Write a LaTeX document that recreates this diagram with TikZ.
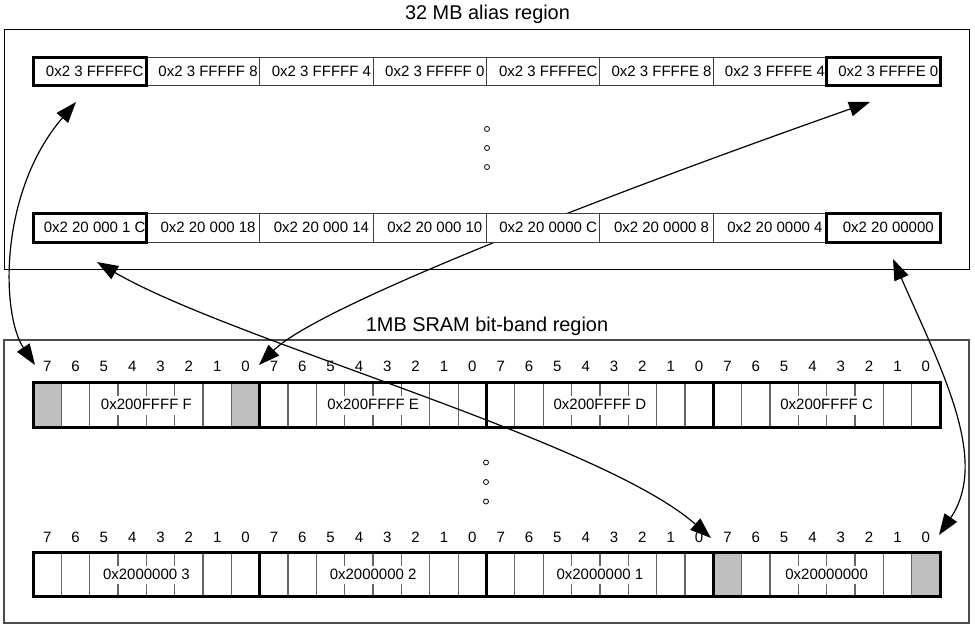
\documentclass[tikz,border=0pt]{standalone}
\usepackage{fontspec}
\setmainfont{Liberation Sans}
\usetikzlibrary{arrows.meta}
\def\mycw{28.34375}
\newcommand{\mybitrow}[8]{%
  \foreach \k/\lab in {0/#5,1/#6,2/#7,3/#8} {%
    \pgfmathsetmacro\myxo{33+\k*226.75}
    \foreach \i in {1,2,6,7}
      \draw[bitline] ({\myxo+\i*\mycw},#2) -- ({\myxo+\i*\mycw},#3);
    \foreach \i in {3,4,5} {
      \draw[bitline] ({\myxo+\i*\mycw},#2) -- ++(0,14);
      \draw[bitline] ({\myxo+\i*\mycw},#3) -- ++(0,-12);
    }
    \node[bytelabel] (#1\k) at ({\myxo+4*\mycw},{(#2+#3)/2}) {\lab};
    \foreach \i in {0,...,7} {
      \pgfmathtruncatemacro\mybn{7-\i}
      \node[bitnum] (#1n\k\i) at ({\myxo+(\i+0.5)*\mycw},#4) {\mybn};
    }
    \draw[bytebox] (\myxo,#2) rectangle ++(226.75,{#3-#2});
  }%
}
\begin{document}
\begin{tikzpicture}[x=1pt,y=-1pt,
  cellfont/.style={font=\fontsize{15}{16}\selectfont},
  titlefont/.style={font=\fontsize{19.9}{22}\selectfont, anchor=base, inner sep=0pt},
  frame/.style={draw=black, line width=1pt},
  frameb/.style={draw=black!70, line width=1.3pt},
  aliascell/.style={cellfont, draw=black!75, line width=1pt, fill=white,
    minimum width=113.375pt, inner sep=0pt, outer sep=0pt},
  thickbox/.style={draw=black, line width=3pt},
  bitline/.style={draw=black!60, line width=1.3pt},
  bytebox/.style={draw=black, line width=3pt},
  bytelabel/.style={cellfont, inner sep=0pt},
  bitnum/.style={cellfont, inner sep=0pt},
  bitgray/.style={fill=black!25},
  dotc/.style={circle, draw=black, line width=0.8pt, fill=white, minimum size=5pt, inner sep=0pt},
  conn/.style={draw=black, line width=1.2pt, {Triangle[length=21pt,width=15pt]}-{Triangle[length=21pt,width=15pt]}}
]
\useasboundingbox (0,0) rectangle (975,632);
\fill[white] (0,0) rectangle (975,632);

% frames
\draw[frame] (4,29) rectangle (969,269);
\draw[frameb] (4,340) rectangle (969,623);
\node[titlefont] (t1) at (487.5,19.4) {32 MB alias region};
\node[titlefont] (t2) at (487,331.6) {1MB SRAM bit-band region};

% gray bits
\fill[bitgray] (33,382) rectangle ++(\mycw,45);
\fill[bitgray] ({33+7*\mycw},382) rectangle ++(\mycw,45);
\fill[bitgray] ({33+24*\mycw},552) rectangle ++(\mycw,44);
\fill[bitgray] ({33+31*\mycw},552) rectangle ++(\mycw,44);

% bit rows
\mybitrow{u}{382}{427}{366.5}{0x200FFFF F}{0x200FFFF E}{0x200FFFF D}{0x200FFFF C}
\mybitrow{l}{552}{596}{537}{0x2000000 3}{0x2000000 2}{0x2000000 1}{0x20000000}

% dots
\node[dotc] (d1) at (487,129) {};
\node[dotc] (d2) at (487,148) {};
\node[dotc] (d3) at (487,167) {};
\node[dotc] (d4) at (486,462.5) {};
\node[dotc] (d5) at (486,482) {};
\node[dotc] (d6) at (486,501.5) {};

% arrow end points
\coordinate (pA1) at (76,102);
\coordinate (pA2) at (35,365);
\coordinate (pB1) at (870,102);
\coordinate (pB2) at (259,365);
\coordinate (pC1) at (97,262);
\coordinate (pC2) at (711,538);
\coordinate (pD1) at (893,259);
\coordinate (pD2) at (939,535);

\draw[conn] (pA1) .. controls (-2,193) and (1.4,315) .. (pA2);
\draw[conn] (pB1) .. controls (620,190) and (319,305) .. (pB2);
\draw[conn] (pC1) .. controls (230,340) and (600,440) .. (pC2);
\draw[conn] (pD1) .. controls (941,369) and (990,460) .. (pD2);

% alias cells
\foreach \i/\t in {1/0x2 3 FFFFFC,2/0x2 3 FFFFF 8,3/0x2 3 FFFFF 4,4/0x2 3 FFFFF 0,
                   5/0x2 3 FFFFEC,6/0x2 3 FFFFE 8,7/0x2 3 FFFFE 4,8/0x2 3 FFFFE 0}
  \node[aliascell, minimum height=28pt] (a\i) at ({33+(\i-0.5)*113.375},71) {\hspace*{10pt}\t};
\foreach \i/\t in {1/0x2 20 000 1 C,2/0x2 20 000 18,3/0x2 20 000 14,4/0x2 20 000 10,
                   5/0x2 20 0000 C,6/0x2 20 0000 8,7/0x2 20 0000 4,8/0x2 20 00000}
  \node[aliascell, minimum height=29pt] (b\i) at ({33+(\i-0.5)*113.375},227.5) {\hspace*{10pt}\t};
\draw[thickbox] (a1.north west) rectangle (a1.south east);
\draw[thickbox] (a8.north west) rectangle (a8.south east);
\draw[thickbox] (b1.north west) rectangle (b1.south east);
\draw[thickbox] (b8.north west) rectangle (b8.south east);
\end{tikzpicture}
\end{document}
